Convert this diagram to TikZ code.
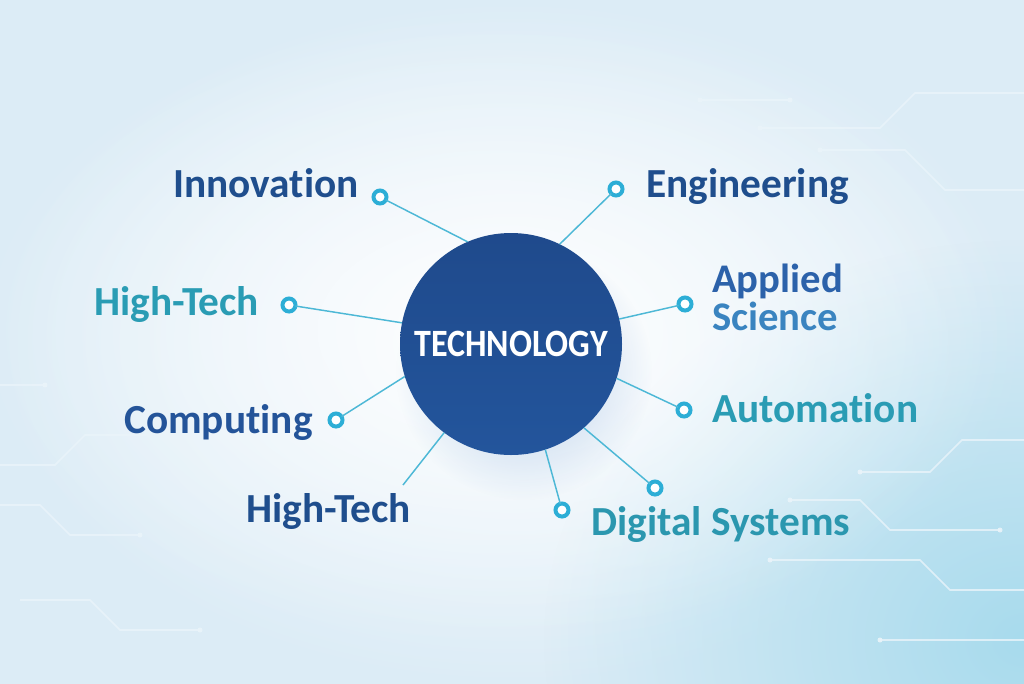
\documentclass[tikz,border=0pt]{standalone}
\usepackage{fontspec}
\setmainfont[RawFeature={-liga}]{Carlito}
\newfontfamily\techfont[FakeStretch=0.88,RawFeature={-liga}]{Carlito}
\usetikzlibrary{fadings}
\definecolor{bgedge}{HTML}{DCECF6}
\definecolor{bgmid}{HTML}{F8FBFE}
\definecolor{glowc}{HTML}{A2D9EC}
\definecolor{hubtop}{HTML}{1F4A8C}
\definecolor{hubbot}{HTML}{23559C}
\definecolor{shadowc}{HTML}{7FA8DA}
\definecolor{darkb}{HTML}{1F4E8D}
\definecolor{compc}{HTML}{245499}
\definecolor{tealc}{HTML}{2A9CB4}
\definecolor{digc}{HTML}{2B97AF}
\definecolor{appc}{HTML}{2C62AA}
\definecolor{scic}{HTML}{3A84C0}
\definecolor{ringc}{HTML}{2DAED6}
\definecolor{linec}{HTML}{4DB8D6}
\definecolor{tracec}{HTML}{EAF4FA}
\tikzfading[name=glowfade, inner color=transparent!0, outer color=transparent!100]
\tikzset{
  lbl/.style={font=\fontsize{31}{37}\selectfont\bfseries, anchor=base west, inner sep=0pt},
  lbltwo/.style={font=\fontsize{30.5}{36}\selectfont\bfseries, anchor=base west, inner sep=0pt},
  ring/.style={circle, draw=ringc, line width=3pt, fill=white, minimum size=9.75pt, inner sep=0pt, outer sep=0pt},
  conn/.style={draw=linec, line width=1.1pt},
  trace/.style={draw=tracec, line width=1.2pt, opacity=0.8},
  hubnode/.style={circle, top color=hubtop, bottom color=hubbot, draw=none, minimum size=166.5pt, inner sep=0pt, outer sep=0pt, text=white, font=\techfont\fontsize{29}{34}\selectfont\bfseries}
}
\begin{document}
\begin{tikzpicture}[x=0.75pt,y=-0.75pt]
\useasboundingbox (0,0) rectangle (1024,683);
% background
\shade[inner color=bgmid, outer color=bgedge] (0,0) rectangle (1024,683);
\fill[glowc, path fading=glowfade, opacity=0.9] (1024,640) ellipse (480 and 400);
\fill[white, path fading=glowfade, opacity=0.75] (490,330) ellipse (520 and 320);
% faint circuit traces
\draw[trace] (0,465) -- (55,465) -- (85,435) -- (150,435);
\draw[trace] (0,505) -- (40,505) -- (70,535) -- (140,535);
\draw[trace] (20,600) -- (90,600) -- (120,630) -- (200,630);
\draw[trace] (0,385) -- (45,385);
\draw[trace] (760,128) -- (880,128) -- (915,93) -- (1024,93);
\draw[trace] (820,150) -- (905,150) -- (945,190) -- (1024,190);
\draw[trace] (700,100) -- (790,100);
\draw[trace] (860,472) -- (930,472) -- (962,440) -- (1024,440);
\draw[trace] (790,500) -- (860,500) -- (890,530) -- (1000,530);
\draw[trace] (770,560) -- (920,560) -- (950,590) -- (1024,590);
\draw[trace] (880,640) -- (1024,640);
\foreach \p in {(150,435),(140,535),(200,630),(45,385),(760,128),(820,150),(790,100),(860,472),(790,500),(1000,530),(770,560),(880,640),(700,100)}
  \fill[tracec, opacity=0.9] \p circle (2.5);
% hub shadow
\fill[shadowc, path fading=glowfade, opacity=0.55] (524,372) circle (128);
% hub
\node[hubnode] (hub) at (511,344) {TECHNOLOGY};
% rings
\node[ring] (r1) at (380,197) {};
\node[ring] (r2) at (616,189) {};
\node[ring] (r3) at (289,305) {};
\node[ring] (r4) at (685,304) {};
\node[ring] (r5) at (336,420) {};
\node[ring] (r6) at (684,410) {};
\node[ring] (r7) at (655,488) {};
\node[ring] (r8) at (562,510) {};
\coordinate (hb) at (403,485);
% connectors
\draw[conn] (hub.113) -- (r1);
\draw[conn] (hub.64) -- (r2);
\draw[conn] (hub.169) -- (r3);
\draw[conn] (hub.13) -- (r4);
\draw[conn] (hub.197) -- (r5);
\draw[conn] (hub.342) -- (r6);
\draw[conn] (hub.311) -- (r7);
\draw[conn] (hub.288) -- (r8);
\draw[conn] (hub.233) -- (hb);
% labels
\node[lbl, text=darkb] (innov) at (173,197) {Innovation};
\node[lbl, text=darkb] (eng) at (646,197) {Engineering};
\node[lbl, text=tealc] (htl) at (94,315) {High-Tech};
\node[lbltwo, text=appc] (app) at (712,292) {Applied};
\node[lbltwo, text=scic] (sci) at (712,330) {Science};
\node[lbl, text=compc] (comp) at (124,433) {Computing};
\node[lbl, text=tealc] (auto) at (712,422) {Automation};
\node[lbl, text=darkb] (htb) at (246,522) {High-Tech};
\node[lbl, text=digc] (dig) at (591,535) {Digital Systems};
\end{tikzpicture}
\end{document}
